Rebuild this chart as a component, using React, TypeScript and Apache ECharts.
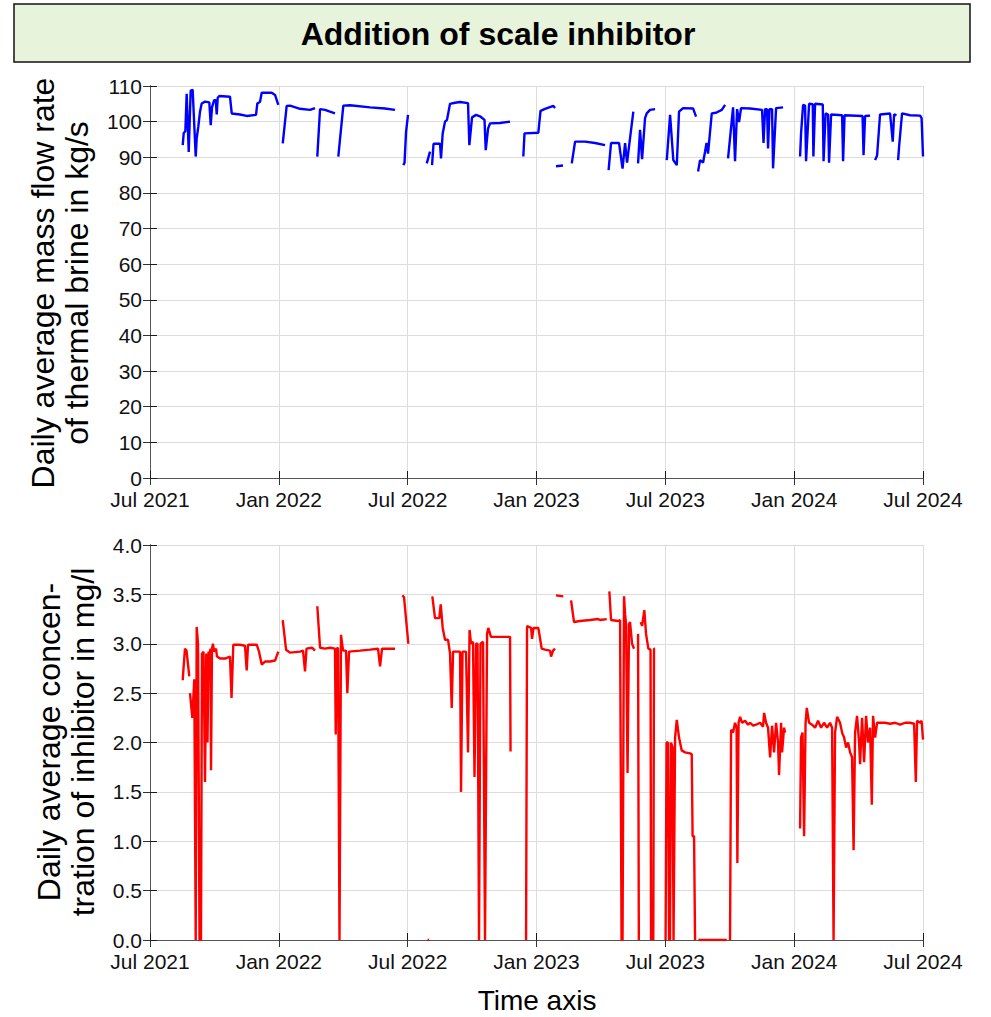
import React, { useEffect, useRef } from "react";
import * as echarts from "echarts";

// Time axis: days since 1 Jul 2021 (1 Jul 2024 = day 1096)
const TOTAL_DAYS = 1096;
const xTickLabels = ["Jul 2021", "Jan 2022", "Jul 2022", "Jan 2023", "Jul 2023", "Jan 2024", "Jul 2024"];

// Daily average mass flow rate of thermal brine (kg/s); null = data gap
const flowDay: (number | null)[] = [
  46.4, 47.8, 50.1, 52.0, 54.9, 57.7, 60.5, 64.8, 66.2, 68.5, 70.9, 73.3, 78.0, 84.1, 86.1, 87.9, 90.8, 93.2, 94.6, 96.0, 98.3, 113.4, 115.9, 127.6, 137.1, 150.3, 152.2, 156.0, 158.4, 172.6, 177.3, 181.9, null,
  188.2, 193.8, 198.5, 212.7, 226.9, 234.0, null,
  237.2, 241.1, 248.2, 255.2, 262.3, null,
  267.0, 274.1, 283.6, 312.0, 333.2, 347.4, null,
  359.2, 360.9, 363.0, 365.8, null,
  392.4, 397.0, null,
  399.9, 402.0, 411.2, 412.6, 415.0, 418.3, 421.1, 425.4, 432.5, 439.6, 450.9, 452.8, 456.6, 462.3, 467.9, 474.3, 476.0, 479.3, 482.1, 496.3, 510.5, null,
  529.3, 531.0, 550.6, 553.7, 560.1, 571.9, 574.3, null,
  575.7, 585.6, null,
  598.0, 602.7, 616.8, 631.0, 645.2, null,
  650.2, 653.7, 665.0, 670.0, 673.6, 676.4, 680.6, 685.3, null,
  692.0, 694.8, 697.7, 701.9, 704.3, 709.0, 716.1, null,
  732.7, 737.4, 742.0, 746.9, 750.1, 755.8, 770.0, 774.2, null,
  777.1, 779.9, 784.2, 787.0, 789.1, 791.2, 796.5, 802.6, 810.7, 815.4, null,
  819.6, 826.7, 829.5, 832.4, 835.2, 838.0, 850.8, 867.8, 869.9, 872.1, 874.9, 876.3, 878.4, 882.0, 883.4, 887.7, 897.6, null,
  921.7, 923.1, 926.0, 928.8, 930.2, 934.5, 939.7, 940.6, 943.0, 953.9, 955.0, 957.9, 961.4, 962.8, 965.7, 981.3, 982.7, 984.8, 1010.3, 1011.7, 1013.9, 1021.0, null,
  1028.1, 1030.9, 1035.1, 1049.3, 1053.1, 1055.0, 1058.5, null,
  1060.7, 1062.1, 1066.3, 1077.7, 1091.9, 1094.0, 1096.0,
];
const flowRate: (number | null)[] = [
  93.4, 96.8, 97.3, 107.8, 91.5, 108.7, 108.9, 90.2, 95.3, 98.6, 102.8, 105.1, 105.6, 105.4, 99, 104, 106, 106, 102, 106.7, 107.2, 107, 102.3, 102, 101.6, 101.9, 105.1, 105.6, 108.1, 108.1, 107.5, 104.7, null,
  93.9, 104.4, 104.5, 103.6, 103.3, 103.8, null,
  90.2, 103.5, 103.3, 102.8, 102.3, null,
  90.2, 104.5, 104.6, 104, 103.7, 103.3, null,
  87.8, 88.5, 97, 101.9, null,
  88.3, 91.6, null,
  87.8, 93.8, 93.8, 89.7, 96.7, 100, 100.5, 105, 105.3, 105.5, 105.2, 93.4, 101.2, 101.9, 101.5, 100.5, 92, 98, 99.5, 99.6, 100, null,
  90.2, 96.7, 96.9, 103, 103.6, 104.4, 103.8, null,
  87.5, 87.7, null,
  88.3, 94.4, 94.4, 94, 93.4, null,
  86.4, 94, 94, 86.8, 94, 88.5, 95.3, 102.8, null,
  88.3, 97.7, 89.5, 101, 102.3, 103.3, 103.5, null,
  89.2, 101.9, 89.2, 87.8, 102.8, 103.8, 103.7, 101.4, null,
  86, 89.2, 88.5, 91.6, 94, 91, 102.3, 102.5, 103.3, 104.7, null,
  89.7, 104, 88.9, 103.5, 99.9, 103.8, 103.7, 103.3, 94, 103.5, 103.5, 92.5, 103.5, 103.5, 86.9, 103.8, 104, null,
  90.2, 96.7, 104.7, 104.5, 88.9, 105, 104.9, 90.2, 105, 104.8, 88.9, 102.3, 102, 88.5, 102, 101.8, 88.9, 101.8, 101.6, 90.6, 101.6, 101.7, null,
  89.2, 90.5, 102, 102.3, 94.4, 102, 101.8, null,
  89.2, 93, 102.3, 101.8, 101.7, 101, 90.2,
];

// Daily average concentration of inhibitor (mg/l); null = data gap
const inhibDay: (number | null)[] = [
  46.4, 47.2, 49.6, 51.8, 55.7, null,
  56.7, 60.0, 62.8, 64.8, 66.2, 68.1, 70.2, 72.3, 73.7, 75.9, 78.0, 79.8, 81.5, 83.0, 84.4, 85.8, 86.5, 87.9, 89.3, 90.8, 93.6, 95.0, 99.3, 106.4, 113.4, 115.6, 118.1, 127.6, 134.7, 137.1, 139.0, 151.3, 154.6, 158.4, 163.1, 170.2, 177.3, 181.9, null,
  188.2, 192.9, 198.5, 212.7, 217.0, 219.8, 221.9, 229.7, 234.0, null,
  237.2, 241.1, 248.2, 255.2, 262.3, 263.3, 265.1, 266.6, 268.7, 270.8, 273.7, 277.9, 279.8, 282.2, 297.8, 312.0, 323.3, 326.2, 329.0, 340.3, 347.4, null,
  357.8, 360.2, 366.3, null,
  393.5, 395.6, null,
  400.3, 404.1, 410.2, 412.2, 415.0, 418.3, 422.6, 425.4, 427.8, 429.7, 439.6, 441.0, 443.1, 448.1, 450.9, 453.1, 455.2, 458.0, 460.1, 462.3, 464.4, 466.5, 468.6, 472.2, 475.0, 477.9, 479.7, 483.5, 496.3, 510.5, 511.2, null,
  533.2, 534.6, 540.3, 541.7, 543.8, 550.6, 555.4, 560.1, 567.2, 568.6, 571.5, 574.3, null,
  575.7, 586.1, null,
  597.0, 601.2, 609.7, 623.9, 635.3, 638.1, 647.6, null,
  651.3, 653.7, 663.6, 666.5, 668.6, 670.0, 672.1, 673.6, 675.0, 677.1, 679.2, 680.6, 683.5, 686.3, null,
  692.0, 693.1, null,
  695.8, 697.7, 700.9, 703.3, 706.6, 709.7, 710.4, null,
  713.6, 714.6, 716.1, null,
  731.0, 732.4, 734.5, 735.9, 737.3, 738.7, 740.9, 742.3, 744.5, 746.9, 750.1, 753.9, 758.6, 765.7, 768.1, 769.3, 771.4, 772.8, null,
  777.5, 817.8, null,
  822.4, 823.9, 826.7, 829.5, 831.7, 832.8, 834.5, 836.6, 839.5, 843.7, 848.0, 850.8, 855.1, 859.3, 865.0, 869.2, 870.7, 873.5, 876.3, 879.2, 882.0, 884.8, 887.7, 890.5, 891.9, 894.8, 896.2, 899.0, 900.4, null,
  921.7, 923.1, 925.2, 927.4, 929.5, 931.2, 934.5, 938.7, 943.0, 947.2, 951.5, 955.7, 960.0, 964.2, 967.1, 969.2, 971.3, 974.2, 978.4, 981.3, 984.1, 987.0, 989.8, 992.6, 995.4, 997.6, 999.7, 1002.5, 1005.4, 1006.8, 1009.6, 1012.5, 1015.3, 1018.1, 1021.0, 1023.4, 1025.2, 1028.1, 1030.9, 1035.1, 1042.2, 1049.3, 1056.4, 1063.5, 1070.6, 1077.7, 1083.4, 1085.8, 1087.6, 1091.9, 1094.0, 1096.0,
];
const inhibConc: (number | null)[] = [
  2.63, 2.72, 2.95, 2.93, 2.67, null,
  2.5, 2.25, 2.64, 0, 3.17, 3.0, 0, 0, 2.9, 2.92, 1.6, 2.9, 2.0, 2.92, 2.9, 2.95, 1.72, 2.95, 3.0, 2.92, 2.95, 2.87, 2.85, 2.85, 2.87, 2.45, 2.99, 2.99, 2.98, 2.73, 2.99, 2.99, 2.92, 2.79, 2.82, 2.82, 2.83, 2.92, null,
  3.24, 2.94, 2.91, 2.92, 2.93, 2.72, 2.95, 2.96, 2.93, null,
  3.38, 2.96, 2.95, 2.96, 2.95, 2.08, 2.96, 2.95, 0, 3.09, 2.93, 2.93, 2.5, 2.92, 2.93, 2.94, 2.95, 2.77, 2.95, 2.95, 2.95, null,
  3.49, 3.47, 3.0, null,
  0, 0, null,
  3.48, 3.26, 3.26, 3.4, 3.16, 3.04, 3.04, 2.9, 2.35, 2.92, 2.92, 1.5, 2.92, 2.92, 1.9, 3.14, 3.0, 3.02, 1.65, 3.0, 3.0, 0, 3.0, 3.02, 0, 3.1, 3.16, 3.07, 3.07, 3.07, 1.91, null,
  0, 3.18, 3.16, 3.05, 3.16, 3.16, 2.95, 2.94, 2.93, 2.87, 2.93, 2.95, null,
  3.49, 3.48, null,
  3.44, 3.22, 3.23, 3.24, 3.25, 3.24, 3.25, null,
  3.53, 3.24, 3.23, 3.24, 0, 0, 3.48, 3.3, 3.2, 1.69, 3.2, 3.22, 3.0, 2.95, null,
  3.1, 0, null,
  3.22, 3.18, 3.34, 3.1, 2.95, 2.94, 0, null,
  0, 2.95, 2.95, null,
  0, 2.0, 2.0, 0, 0, 2.0, 1.95, 0, 2.05, 2.23, 2.05, 1.92, 1.9, 1.89, 1.88, 1.05, 1.05, 0, null,
  0, 0, null,
  0, 2.13, 2.1, 2.2, 2.15, 0.78, 2.2, 2.26, 2.2, 2.22, 2.18, 2.2, 2.17, 2.18, 2.2, 2.16, 2.3, 2.2, 2.15, 1.85, 2.17, 1.9, 2.2, 2.0, 1.67, 2.2, 1.9, 2.15, 2.1, null,
  1.13, 2.05, 2.1, 1.05, 2.2, 2.35, 2.2, 2.18, 2.15, 2.22, 2.15, 2.2, 2.15, 2.2, 2.15, 0, 2.1, 2.26, 2.2, 2.1, 2.05, 1.95, 2.0, 1.9, 1.85, 0.91, 2.1, 2.27, 2.0, 1.78, 2.25, 1.8, 2.27, 2.0, 2.15, 1.37, 2.27, 2.05, 2.2, 2.2, 2.2, 2.19, 2.2, 2.18, 2.2, 2.2, 2.19, 1.6, 2.22, 2.2, 2.22, 2.03,
];

const FONT = '"Liberation Sans", Arial, Helvetica, sans-serif';

// x expressed in months since Jul 2021 so that half-year ticks are exact integers
function toSeries(days: (number | null)[], vals: (number | null)[]) {
  const out: any[] = [];
  let prev = 0;
  for (let i = 0; i < days.length; i++) {
    const d = days[i];
    const v = vals[i];
    if (d === null || v === null) {
      out.push([(prev * 36) / TOTAL_DAYS, "-"]);
      continue;
    }
    prev = d;
    out.push([(d * 36) / TOTAL_DAYS, v]);
  }
  return out;
}

function xAxes(gridIndex: number) {
  const common = {
    type: "value" as const,
    gridIndex,
    min: 0,
    max: 36,
    interval: 6,
  };
  return [
    {
      ...common,
      position: "bottom",
      axisLine: { show: true, lineStyle: { color: "#1a1a1a", width: 1 } },
      axisTick: { show: true, inside: true, length: 7, lineStyle: { color: "#1a1a1a", width: 1 } },
      axisLabel: {
        show: true,
        fontFamily: FONT,
        fontSize: 21,
        color: "#111",
        margin: 11,
        formatter: (v: number) => xTickLabels[Math.round(v / 6)] ?? "",
      },
      splitLine: { show: true, lineStyle: { color: "#dcdcdc", width: 1 } },
    },
    {
      ...common,
      position: "top",
      axisLine: { show: true, lineStyle: { color: "#555", width: 1 } },
      axisTick: { show: true, inside: true, length: 7, lineStyle: { color: "#333", width: 1 } },
      axisLabel: { show: false },
      splitLine: { show: false },
    },
  ];
}

function yAxes(gridIndex: number, max: number, interval: number, digits: number) {
  const common = { type: "value" as const, gridIndex, min: 0, max, interval };
  return [
    {
      ...common,
      position: "left",
      axisLine: { show: true, lineStyle: { color: "#1a1a1a", width: 1 } },
      axisTick: { show: true, inside: true, length: 7, lineStyle: { color: "#1a1a1a", width: 1 } },
      axisLabel: {
        show: true,
        fontFamily: FONT,
        fontSize: 21,
        color: "#111",
        margin: 8,
        formatter: (v: number) => v.toFixed(digits),
      },
      splitLine: { show: true, lineStyle: { color: "#dcdcdc", width: 1 } },
    },
    {
      ...common,
      position: "right",
      axisLine: { show: true, lineStyle: { color: "#555", width: 1 } },
      axisTick: { show: true, inside: true, length: 7, lineStyle: { color: "#333", width: 1 } },
      axisLabel: { show: false },
      splitLine: { show: false },
    },
  ];
}

export default function App() {
  const ref = useRef<HTMLDivElement>(null);

  useEffect(() => {
    if (!ref.current) return;
    const chart = echarts.init(ref.current, null, { renderer: "svg" });
    const xa = [...xAxes(0), ...xAxes(1)];
    const ya = [...yAxes(0, 110, 10, 0), ...yAxes(1, 4, 0.5, 1)];
    chart.setOption({
      animation: false,
      backgroundColor: "#ffffff",
      grid: [
        { left: 150, top: 86, width: 773, height: 392, containLabel: false },
        { left: 150, top: 545, width: 773, height: 395, containLabel: false },
      ],
      xAxis: xa,
      yAxis: ya,
      series: [
        {
          type: "line",
          name: "Mass flow rate",
          xAxisIndex: 0,
          yAxisIndex: 0,
          data: toSeries(flowDay, flowRate),
          showSymbol: false,
          symbol: "none",
          connectNulls: false,
          lineStyle: { color: "#0000ff", width: 2.4 },
          itemStyle: { color: "#0000ff" },
          z: 5,
        },
        {
          type: "line",
          name: "Inhibitor concentration",
          xAxisIndex: 2,
          yAxisIndex: 2,
          data: toSeries(inhibDay, inhibConc),
          showSymbol: false,
          symbol: "none",
          connectNulls: false,
          clip: true,
          lineStyle: { color: "#ff0000", width: 2.4 },
          itemStyle: { color: "#ff0000" },
          z: 5,
        },
      ],
      graphic: [
        {
          type: "rect",
          shape: { x: 14, y: 4, width: 956, height: 58 },
          style: { fill: "#e8f3dc", stroke: "#111", lineWidth: 1.5 },
          z: 10,
        },
        {
          type: "text",
          x: 498,
          y: 34,
          style: {
            text: "Addition of scale inhibitor",
            fontFamily: FONT,
            fontSize: 32,
            fontWeight: "bold",
            fill: "#000",
            textAlign: "center",
            textVerticalAlign: "middle",
          },
          z: 11,
        },
        {
          type: "text",
          x: 60,
          y: 283,
          rotation: Math.PI / 2,
          style: {
            text: "Daily average mass flow rate\nof thermal brine in kg/s",
            fontFamily: FONT,
            fontSize: 32,
            lineHeight: 34,
            fill: "#000",
            textAlign: "center",
            textVerticalAlign: "middle",
          },
          z: 11,
        },
        {
          type: "text",
          x: 66,
          y: 742,
          rotation: Math.PI / 2,
          style: {
            text: "Daily average concen-\ntration of inhibitor in mg/l",
            fontFamily: FONT,
            fontSize: 32,
            lineHeight: 34,
            fill: "#000",
            textAlign: "center",
            textVerticalAlign: "middle",
          },
          z: 11,
        },
        {
          type: "text",
          x: 537,
          y: 1000,
          style: {
            text: "Time axis",
            fontFamily: FONT,
            fontSize: 28,
            fill: "#000",
            textAlign: "center",
            textVerticalAlign: "middle",
          },
          z: 11,
        },
      ],
    });
    return () => chart.dispose();
  }, []);

  return (
    <div
      ref={ref}
      style={{ position: "absolute", left: 0, top: 0, width: 991, height: 1017, background: "#fff" }}
    />
  );
}
